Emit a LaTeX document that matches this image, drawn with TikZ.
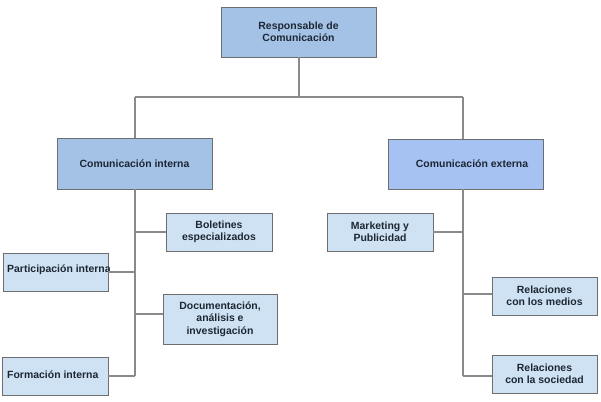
\documentclass[tikz,border=0pt]{standalone}
\usepackage{fontspec}
\setmainfont{Liberation Sans}
\definecolor{topfill}{HTML}{A4C2E6}
\definecolor{extfill}{HTML}{A6C2F2}
\definecolor{subfill}{HTML}{CFE2F3}
\definecolor{boxline}{HTML}{6E6E6E}
\definecolor{conn}{HTML}{8A8A8A}
\definecolor{txt}{HTML}{1C2733}
\tikzset{
  box/.style={draw=boxline, line width=0.9bp, rectangle, inner sep=0pt, align=center,
    font=\bfseries\fontsize{10.5}{12.5}\selectfont, text=txt},
  conline/.style={draw=conn, line width=1.1bp},
  lbl/.style={inner sep=0pt, font=\bfseries\fontsize{10.5}{12.5}\selectfont, text=txt, align=center}
}
\begin{document}
\begin{tikzpicture}[x=1bp,y=-1bp]
\useasboundingbox (0,0) rectangle (601,401);
% main boxes
\node[box, fill=topfill, minimum width=155bp, minimum height=50bp] (top) at (298.5,32) {Responsable de\\Comunicación};
\node[box, fill=topfill, minimum width=155bp, minimum height=51bp] (ci) at (134.5,163.5) {Comunicación interna};
\node[box, fill=extfill, minimum width=155bp, minimum height=50bp] (ce) at (465.5,164) {};
\node[lbl] (cet) at (472,164) {Comunicación externa};
% sub boxes
\node[box, fill=subfill, minimum width=106bp, minimum height=38bp] (bol) at (219,232) {Boletines\\especializados};
\node[box, fill=subfill, minimum width=105bp, minimum height=38bp] (par) at (55.5,272) {};
\node[lbl, anchor=west] (part) at (7,270) {Participación interna};
\node[box, fill=subfill, minimum width=114bp, minimum height=50bp] (doc) at (220,319) {Documentación,\\análisis e\\investigación};
\node[box, fill=subfill, minimum width=106bp, minimum height=38bp] (for) at (55,376) {};
\node[lbl, anchor=west] (fort) at (7,375) {Formación interna};
\node[box, fill=subfill, minimum width=106bp, minimum height=38bp] (mkt) at (380,232) {Marketing y\\Publicidad};
\node[box, fill=subfill, minimum width=105bp, minimum height=38bp] (rm) at (544.5,296) {Relaciones\\con los medios};
\node[box, fill=subfill, minimum width=105bp, minimum height=38bp] (rs) at (544.5,374) {Relaciones\\con la sociedad};
% junctions
\coordinate (j0) at (299,97);
\coordinate (jl) at (135,97);
\coordinate (jr) at (463,97);
\coordinate (l1) at (135,232);
\coordinate (l2) at (135,272);
\coordinate (l3) at (135,314);
\coordinate (l4) at (135,376);
\coordinate (r1) at (463,232);
\coordinate (r2) at (463,294);
\coordinate (r3) at (463,376);
% connectors
\draw[conline] (top.south -| j0) -- (j0);
\draw[conline] (jl) -- (jr);
\draw[conline] (jl) -- (jl |- ci.north);
\draw[conline] (jr) -- (jr |- ce.north);
\draw[conline] (jl |- ci.south) -- (l4);
\draw[conline] (jr |- ce.south) -- (r3);
\draw[conline] (l1) -- (l1 -| bol.west);
\draw[conline] (l2) -- (l2 -| par.east);
\draw[conline] (l3) -- (l3 -| doc.west);
\draw[conline] (l4) -- (l4 -| for.east);
\draw[conline] (r1) -- (r1 -| mkt.east);
\draw[conline] (r2) -- (r2 -| rm.west);
\draw[conline] (r3) -- (r3 -| rs.west);
\end{tikzpicture}
\end{document}
